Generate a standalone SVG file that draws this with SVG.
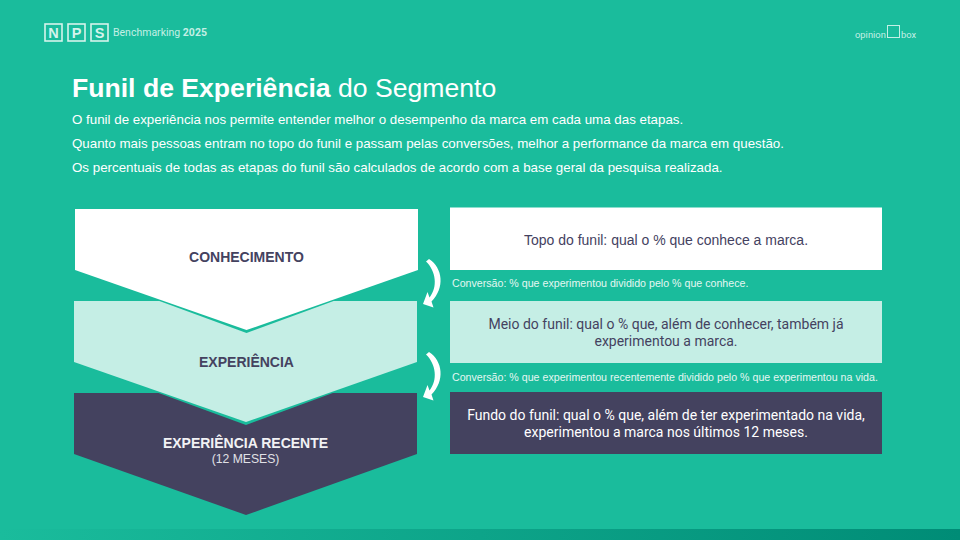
<svg xmlns="http://www.w3.org/2000/svg" width="960" height="540" viewBox="0 0 960 540">
<defs>
<linearGradient id="bar" x1="0" x2="1" y1="0" y2="0"><stop offset="0" stop-color="#1abc9c"/><stop offset="1" stop-color="#008c76"/></linearGradient>
<path id="arrow" d="M426 261.500 L429 259 C443 268 445 288 431.500 301.500 L433.500 307.500 L423 304 L427.500 292 L429.500 297.500 C438 287 436 271 426 261.500 Z" fill="#fff"/>
</defs>
<style>
text{font-family:"Liberation Sans",Arial,sans-serif}
.r{font-family:Roboto,"Liberation Sans",sans-serif}
.body{font-size:13.33px;fill:#fff}
.conv{font-size:10.65px;fill:#e4f7f2}
.lab{font-size:14px;font-weight:700;text-anchor:middle}
.box{font-family:Roboto,"Liberation Sans",sans-serif;font-size:14px;text-anchor:middle}
.dk{fill:#44425f}
.logo{fill:none;stroke:#d5f3ec;stroke-width:1.6}
.lt{font-weight:700;font-size:14.500px;fill:#d5f3ec;text-anchor:middle}
</style>
<rect width="960" height="540" fill="#1abc9c"/>
<rect y="529" width="960" height="11" fill="url(#bar)"/>
<g id="logo-nps">
<rect class="logo" x="45" y="24" width="17" height="17"/><text class="lt" x="53.500" y="37.500">N</text>
<rect class="logo" x="68" y="24" width="17" height="17"/><text class="lt" x="76.500" y="37.500">P</text>
<rect class="logo" x="91" y="24" width="17" height="17"/><text class="lt" x="99.500" y="37.500">S</text>
<text x="113" y="36" class="r" font-size="10.500" fill="#c4efe5">Benchmarking <tspan font-weight="700">2025</tspan></text>
</g>
<g id="logo-opinion">
<text x="855" y="38" class="r" font-size="9.400" fill="#c4efe5">opinion</text>
<rect x="887.500" y="25.500" width="12" height="12" fill="none" stroke="#c4efe5" stroke-width="1"/>
<text x="901" y="38" class="r" font-size="9.400" fill="#c4efe5">box</text>
</g>
<g id="header">
<text x="72" y="97" font-size="26.600" fill="#fff"><tspan font-weight="700">Funil de Experiência</tspan> do Segmento</text>
<text class="body" x="72" y="124">O funil de experiência nos permite entender melhor o desempenho da marca em cada uma das etapas.</text>
<text class="body" x="72" y="148">Quanto mais pessoas entram no topo do funil e passam pelas conversões, melhor a performance da marca em questão.</text>
<text class="body" x="72" y="172">Os percentuais de todas as etapas do funil são calculados de acordo com a base geral da pesquisa realizada.</text>
</g>
<g id="funil-recente">
<polygon points="74,393 417,393 417,454 246,515 74,454" fill="#44425f"/>
<text class="lab" x="245.500" y="448" fill="#f2f2f5">EXPERIÊNCIA RECENTE</text>
<text x="245.500" y="463" font-size="12.200" text-anchor="middle" fill="#e0e0e6">(12 MESES)</text>
</g>
<g id="funil-experiencia">
<polygon points="74,301 417,301 417,362 246,425 74,362" fill="#1abc9c"/>
<polygon points="74,301 417,301 417,362 246,422 74,362" fill="#c5eee5"/>
<text class="lab dk" x="246.500" y="367">EXPERIÊNCIA</text>
</g>
<g id="funil-conhecimento">
<polygon points="75,209 418,209 418,270 246.500,333 75,270" fill="#1abc9c"/>
<polygon points="75,209 418,209 418,270 246.500,330 75,270" fill="#fff"/>
<text class="lab dk" x="246.500" y="262">CONHECIMENTO</text>
</g>
<g id="box-topo">
<rect x="450" y="207.500" width="432" height="62.500" fill="#fff"/>
<text x="666" y="244.500" font-size="14" text-anchor="middle" class="dk">Topo do funil: qual o % que conhece a marca.</text>
</g>
<g id="box-meio">
<rect x="450" y="301" width="432" height="62" fill="#c5eee5"/>
<text class="box dk" x="666" y="329">Meio do funil: qual o % que, além de conhecer, também já</text>
<text class="box dk" x="666" y="346">experimentou a marca.</text>
</g>
<g id="box-fundo">
<rect x="450" y="392" width="432" height="62" fill="#44425f"/>
<text class="box" fill="#fff" x="666" y="420">Fundo do funil: qual o % que, além de ter experimentado na vida,</text>
<text class="box" fill="#fff" x="666" y="437">experimentou a marca nos últimos 12 meses.</text>
</g>
<g id="conversoes">
<text class="conv" x="452" y="287">Conversão: % que experimentou dividido pelo % que conhece.</text>
<text class="conv" x="452" y="381">Conversão: % que experimentou recentemente dividido pelo % que experimentou na vida.</text>
</g>
<g id="connectors">
<use href="#arrow"/>
<use href="#arrow" y="93"/>
</g>
</svg>
